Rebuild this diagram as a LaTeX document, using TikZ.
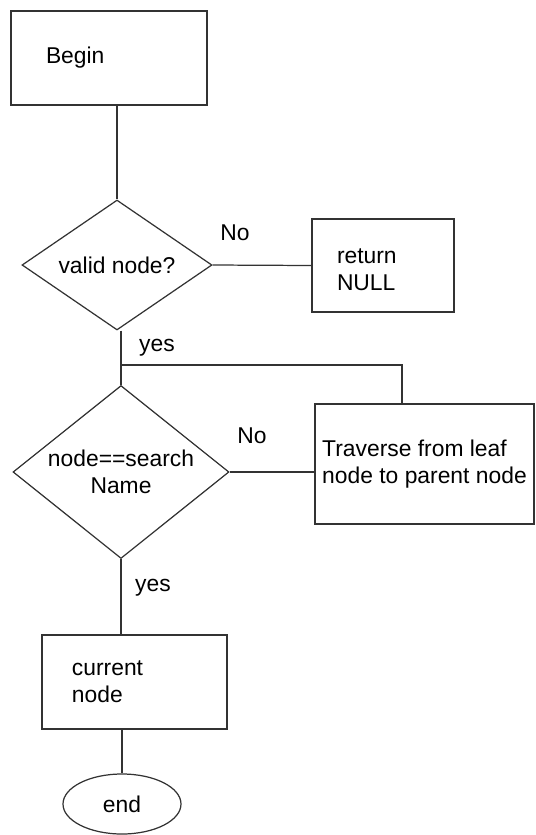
\documentclass[tikz,border=0pt]{standalone}
\usepackage{fontspec}
\setmainfont{Liberation Sans}
\usetikzlibrary{
    shapes.geometric,
    calc,
}

\begin{document}
\begin{tikzpicture}[
        every node/.style={font=\fontsize{13}{15.5}\selectfont},
        line/.style={line width=0.7pt, black!80},
        box/.style={draw, line width=0.7pt, black!80, text=black, rectangle, align=left, inner ysep=0pt},
        decide/.style={draw, line width=0.7pt, black!80, text=black, diamond, inner sep=0pt, align=center},
        lbl/.style={text=black, inner sep=0pt},
    ]
        \useasboundingbox (0, 0) rectangle (10.72, -16.70);
        % boxes
        \node[box, minimum width=3.92cm, minimum height=1.88cm, text width=2.52cm, inner xsep=0.7cm] (begin) at (2.18, -1.16) {Begin};
        \node[decide, minimum width=3.8cm, minimum height=2.6cm, aspect=1.46] (valid) at (2.34, -5.30) {valid node?};
        \node[box, minimum width=2.84cm, minimum height=1.86cm, text width=1.84cm, inner xsep=0.5cm] (ret) at (7.66, -5.31) {\\[-2pt]return\\NULL};
        \node[decide, minimum width=4.32cm, minimum height=3.46cm, aspect=1.25] (check) at (2.42, -9.44) {node==search\\Name};
        \node[box, minimum width=4.38cm, minimum height=2.4cm] (trav) at (8.49, -9.28) {Traverse from leaf\\node to parent node};
        \node[box, minimum width=3.7cm, minimum height=1.88cm, text width=2.5cm, inner xsep=0.6cm] (cur) at (2.69, -13.64) {current\\node};
        \node[draw, ellipse, line width=0.7pt, black!80, text=black, minimum width=2.36cm, minimum height=1.2cm] (stop) at (2.44, -16.08) {end};
        % labels
        \node[lbl] (no1) at (4.70, -4.66) {No};
        \node[lbl] (yes1) at (3.14, -6.96) {yes};
        \node[lbl] (no2) at (5.04, -8.72) {No};
        \node[lbl] (yes2) at (3.06, -11.76) {yes};
        % connectors
        \coordinate (join) at (2.42, -7.30);
        \draw[line] (begin.south -| valid.north) -- (valid.north);
        \draw[line] (valid.east) -- (ret.west);
        \draw[line] (check.north |- valid.south) -- (check.north);
        \draw[line] (join) -| ([xshift=-0.45cm]trav.north);
        \draw[line] (check.east) -- (check.east -| trav.west);
        \draw[line] (check.south) -- (check.south |- cur.north);
        \draw[line] (stop.north |- cur.south) -- (stop.north);
    \end{tikzpicture}
\end{document}
